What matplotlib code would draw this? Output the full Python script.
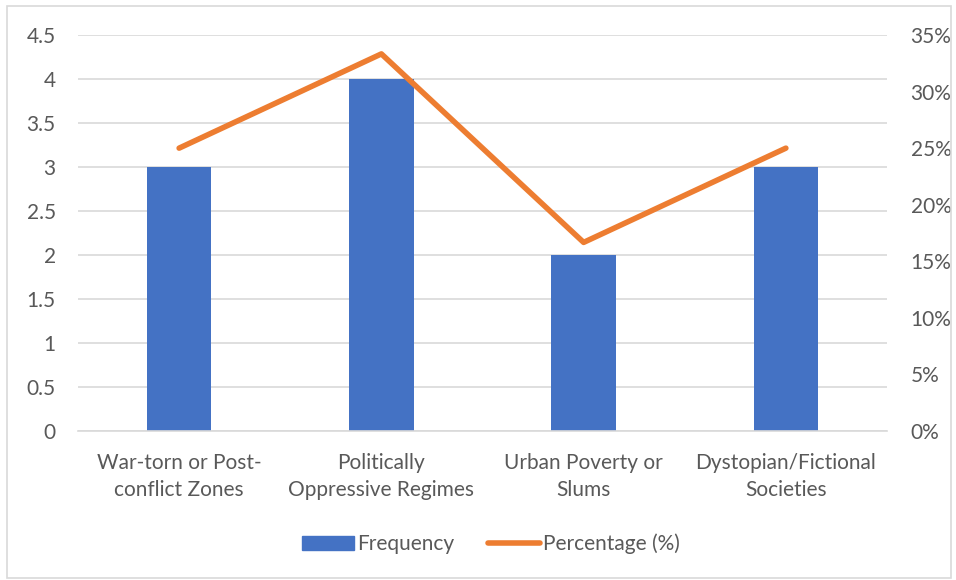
import matplotlib.pyplot as plt
from matplotlib.lines import Line2D
from matplotlib.patches import Patch
from matplotlib.ticker import FuncFormatter
import numpy as np

################################################################
categories = ["War-torn or Post-\nconflict Zones", "Politically\nOppressive Regimes",
              "Urban Poverty or\nSlums", "Dystopian/Fictional\nSocieties"]
frequency = [3, 4, 2, 3]
percentage = [25.0, 33.33, 16.67, 25.0]  # %
left_ticks = [0, 0.5, 1, 1.5, 2, 2.5, 3, 3.5, 4, 4.5]
right_ticks = [0, 5, 10, 15, 20, 25, 30, 35]

bar_color = "#4472C4"
line_color = "#ED7D31"
text_color = "#595959"
grid_color = "#D9D9D9"
fs = 15
################################################################

plt.rcParams['font.family'] = ['Lato', 'DejaVu Sans']
plt.rcParams['font.size'] = fs

fig = plt.figure(figsize=(9.56, 5.8), dpi=100)
ax = fig.add_axes([78 / 956, 1 - 431 / 580, (887 - 78) / 956, (431 - 35) / 580])

x = np.arange(len(categories))
ax.bar(x, frequency, width=0.32, color=bar_color, zorder=2)
ax.set_xlim(-0.5, len(categories) - 0.5)
ax.set_ylim(0, 4.5)
ax.set_yticks(left_ticks)
ax.yaxis.set_major_formatter(FuncFormatter(lambda v, _: f"{v:g}"))
ax.grid(axis='y', color=grid_color, linewidth=1.2, zorder=0)
ax.set_xticks(x)
ax.set_xticklabels(categories, color=text_color, linespacing=1.45)
ax.tick_params(axis='both', length=0, colors=text_color, labelsize=fs)
ax.tick_params(axis='y', pad=16)
ax.tick_params(axis='x', pad=16)
for side in ['top', 'right', 'left']:
    ax.spines[side].set_visible(False)
ax.spines['bottom'].set_color(grid_color)
ax.spines['bottom'].set_linewidth(1.2)

ax2 = ax.twinx()
ax2.plot(x, percentage, color=line_color, linewidth=4, solid_capstyle='round', zorder=3)
ax2.set_ylim(0, 35)
ax2.set_yticks(right_ticks)
ax2.yaxis.set_major_formatter(FuncFormatter(lambda v, _: f"{v:.0f}%"))
ax2.tick_params(axis='y', length=0, colors=text_color, labelsize=fs, pad=17)
for side in ['top', 'right', 'left', 'bottom']:
    ax2.spines[side].set_visible(False)

handles = [Patch(color=bar_color), Line2D([0], [0], color=line_color, linewidth=4, solid_capstyle='round')]
fig.legend(handles, ["Frequency", "Percentage (%)"], loc='center', bbox_to_anchor=(491 / 956, 1 - 544 / 580),
           ncol=2, frameon=False, handlelength=2.5, handletextpad=0.15, columnspacing=1.6,
           labelcolor=text_color, fontsize=fs)

# chart border
fig.patches.append(plt.Rectangle((7 / 956, 2 / 580), 944 / 956, 572 / 580, transform=fig.transFigure,
                                 fill=False, edgecolor=grid_color, linewidth=1.2))

fig.savefig("out.png", dpi=100)
